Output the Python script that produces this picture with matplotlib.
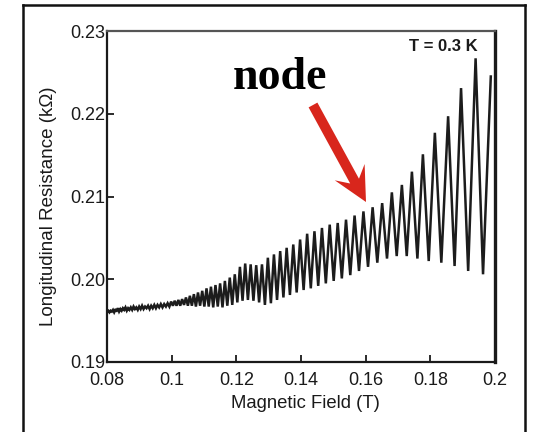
import matplotlib
matplotlib.use("Agg")
import matplotlib.pyplot as plt
from matplotlib.patches import FancyArrow
from matplotlib.lines import Line2D

# Shubnikov-de Haas oscillation extrema: field (T) and longitudinal resistance (kOhm)
peak_field = [
    0.08040, 0.08112, 0.08185, 0.08260, 0.08336, 0.08413, 0.08491, 0.08571,
    0.08653, 0.08736, 0.08821, 0.08907, 0.08995, 0.09085, 0.09177, 0.09270,
    0.09366, 0.09463, 0.09563, 0.09665, 0.09769, 0.09875, 0.09983, 0.10094,
    0.10207, 0.10323, 0.10442, 0.10563, 0.10687, 0.10814, 0.10945, 0.11078,
    0.11215, 0.11355, 0.11498, 0.11646, 0.11797, 0.11952, 0.12111, 0.12274,
    0.12443, 0.12615, 0.12793, 0.12975, 0.13163, 0.13356, 0.13556, 0.13761,
    0.13972, 0.14190, 0.14416, 0.14648, 0.14888, 0.15135, 0.15392, 0.15657,
    0.15931, 0.16215, 0.16510, 0.16810, 0.17120, 0.17430, 0.17770, 0.18140,
    0.18550, 0.18950, 0.19400, 0.19870,
]
peak_res = [
    0.1962, 0.1962, 0.1963, 0.1963, 0.1965, 0.1964, 0.1965, 0.1966,
    0.1965, 0.1966, 0.1967, 0.1966, 0.1967, 0.1968, 0.1967, 0.1968,
    0.1968, 0.1969, 0.1969, 0.1970, 0.1970, 0.1971, 0.1973, 0.1974,
    0.1975, 0.1976, 0.1978, 0.1980, 0.1982, 0.1984, 0.1986, 0.1989,
    0.1991, 0.1993, 0.1995, 0.1998, 0.2002, 0.2006, 0.2015, 0.2019,
    0.2018, 0.2017, 0.2018, 0.2026, 0.2030, 0.2034, 0.2038, 0.2042,
    0.2048, 0.2055, 0.2058, 0.2062, 0.2066, 0.2068, 0.2072, 0.2077,
    0.2082, 0.2087, 0.2092, 0.2105, 0.2114, 0.2130, 0.2151, 0.2177,
    0.2197, 0.2231, 0.2267, 0.2245,
]
valley_field = [
    0.08000, 0.08076, 0.08148, 0.08222, 0.08298, 0.08374, 0.08452, 0.08531,
    0.08612, 0.08694, 0.08778, 0.08864, 0.08951, 0.09040, 0.09131, 0.09223,
    0.09318, 0.09414, 0.09513, 0.09614, 0.09717, 0.09822, 0.09929, 0.10038,
    0.10150, 0.10265, 0.10382, 0.10502, 0.10625, 0.10750, 0.10879, 0.11011,
    0.11146, 0.11285, 0.11426, 0.11572, 0.11721, 0.11874, 0.12031, 0.12192,
    0.12358, 0.12529, 0.12704, 0.12884, 0.13069, 0.13259, 0.13456, 0.13658,
    0.13866, 0.14081, 0.14303, 0.14532, 0.14768, 0.15011, 0.15263, 0.15524,
    0.15794, 0.16073, 0.16360, 0.16660, 0.16960, 0.17270, 0.17600, 0.17950,
    0.18340, 0.18750, 0.19170, 0.19630,
]
valley_res = [
    0.1961, 0.1960, 0.1961, 0.1960, 0.1962, 0.1961, 0.1962, 0.1963,
    0.1962, 0.1963, 0.1963, 0.1964, 0.1963, 0.1964, 0.1964, 0.1965,
    0.1964, 0.1965, 0.1965, 0.1966, 0.1966, 0.1967, 0.1967, 0.1968,
    0.1968, 0.1968, 0.1969, 0.1968, 0.1968, 0.1967, 0.1968, 0.1967,
    0.1967, 0.1966, 0.1967, 0.1966, 0.1968, 0.1969, 0.1972, 0.1974,
    0.1975, 0.1974, 0.1972, 0.1969, 0.1971, 0.1975, 0.1978, 0.1981,
    0.1984, 0.1987, 0.1989, 0.1992, 0.1995, 0.1998, 0.2001, 0.2005,
    0.2010, 0.2015, 0.2020, 0.2025, 0.2028, 0.2028, 0.2025, 0.2022,
    0.2020, 0.2016, 0.2010, 0.2006,
]

x_ticks = [0.08, 0.1, 0.12, 0.14, 0.16, 0.18, 0.2]
x_tick_labels = ["0.08", "0.1", "0.12", "0.14", "0.16", "0.18", "0.2"]
y_ticks = [0.19, 0.20, 0.21, 0.22, 0.23]
y_tick_labels = ["0.19", "0.20", "0.21", "0.22", "0.23"]

# merge peaks and valleys into one trace ordered by field
trace = sorted(zip(peak_field + valley_field, peak_res + valley_res))
field = [p[0] for p in trace]
res = [p[1] for p in trace]

W, H = 533, 432
fig = plt.figure(figsize=(W / 100, H / 100), dpi=100)
fig.patch.set_facecolor("white")

ax_l, ax_r, ax_t, ax_b = 107, 495, 31, 362
ax = fig.add_axes([ax_l / W, 1 - ax_b / H, (ax_r - ax_l) / W, (ax_b - ax_t) / H])

ax.plot(field, res, color="#1c1c1c", lw=1.8, solid_joinstyle="miter")

ax.set_xlim(0.08, 0.2)
ax.set_ylim(0.19, 0.23)

sans = "Liberation Sans"
ink = "#1a1a1a"
ax.set_xticks(x_ticks)
ax.set_xticklabels(x_tick_labels, fontsize=13, family=sans, color=ink)
ax.set_yticks(y_ticks)
ax.set_yticklabels(y_tick_labels, fontsize=13, family=sans, color=ink)
ax.tick_params(axis="both", direction="in", length=5, width=1.3, colors=ink,
               top=False, right=False)
ax.tick_params(axis="x", pad=7, labelcolor=ink)
ax.tick_params(axis="y", pad=1, labelcolor=ink)

for side, s in ax.spines.items():
    s.set_color("#1a1a1a")
    s.set_linewidth(1.6)
ax.spines["right"].set_linewidth(2.4)
ax.spines["top"].set_color("#555555")

fig.text(305 / W, 1 - 403 / H, "Magnetic Field (T)", ha="center", va="center",
         fontsize=13.3, family=sans, color=ink)
fig.text(49 / W, 1 - 206 / H, "Longitudinal Resistance (k\u03a9)", ha="center",
         va="center", rotation=90, fontsize=13.5, family=sans, color=ink)

ax.text(0.956, 0.952, "T = 0.3 K", transform=ax.transAxes, ha="right", va="center",
        fontsize=12, family=sans, fontweight="bold", color=ink)

# annotation
fig.text(280 / W, 1 - 78 / H, "node", ha="center", va="center", fontsize=33,
         family="Liberation Serif", fontweight="bold", color="black")
tail = (313 / 100, (H - 105) / 100)
tip = (366 / 100, (H - 202) / 100)
arrow = FancyArrow(tail[0], tail[1], tip[0] - tail[0], tip[1] - tail[1],
                   width=0.10, head_width=0.34, head_length=0.34, overhang=0.3,
                   length_includes_head=True, color="#d8261c", lw=0,
                   transform=fig.dpi_scale_trans)
fig.patches.append(arrow)

# outer frame
for xs, ys in [((23, 23), (5, H + 5)), ((23, 525), (5, 5)), ((525, 525), (5, H + 5))]:
    fig.add_artist(Line2D([x / W for x in xs], [1 - y / H for y in ys],
                          transform=fig.transFigure, color="#111111", lw=1.8))

fig.savefig("out.png", dpi=100)
